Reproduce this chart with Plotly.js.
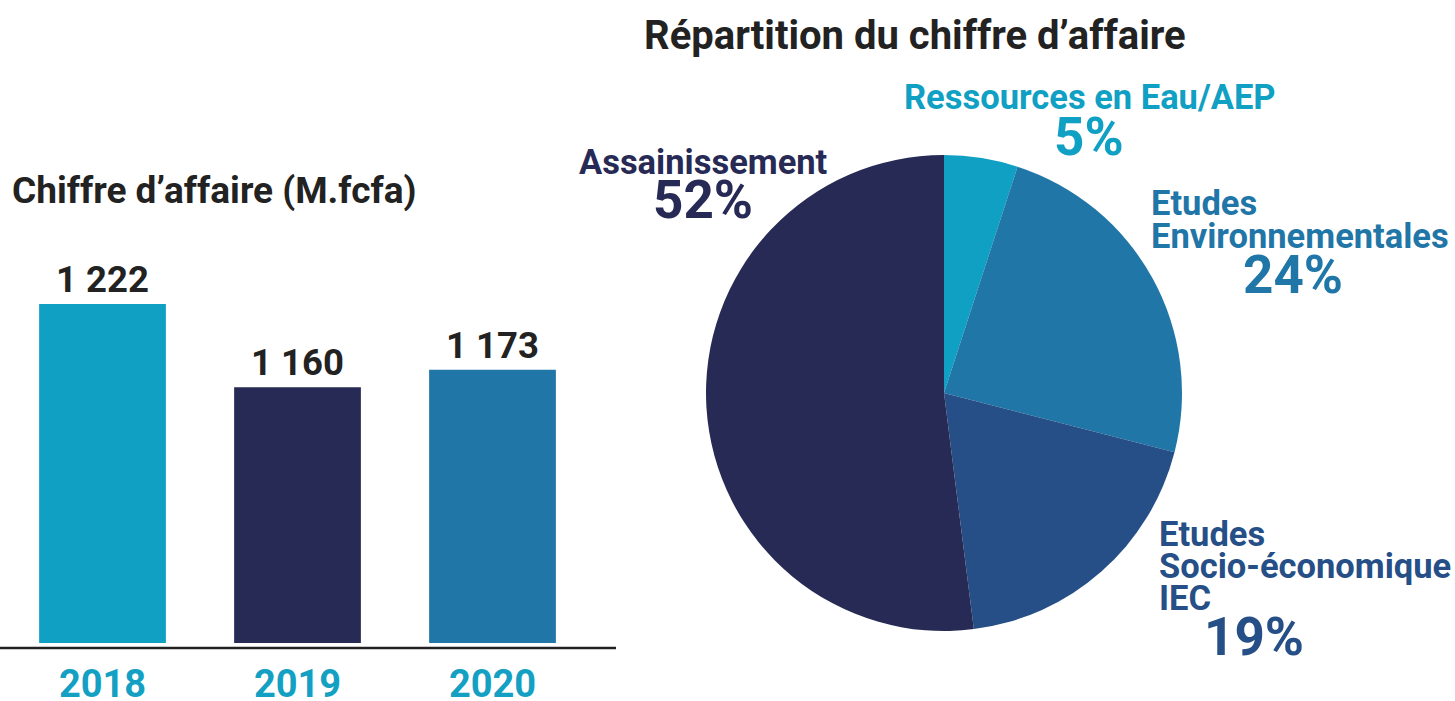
<!DOCTYPE html>
<html>
<head>
<meta charset="utf-8">
<script src="https://cdn.plot.ly/plotly-3.0.1.min.js"></script>
<style>
  html, body { margin: 0; padding: 0; background: #ffffff; }
  #chart { width: 1455px; height: 701px; }
</style>
</head>
<body>
<div id="chart"></div>
<script>
// ---- Data ----
const years = ['2018', '2019', '2020'];
const revenue = [1222, 1160, 1173];
const revenueLabels = ['1 222', '1 160', '1 173'];
const barColors = ['#0fa0c3', '#272a55', '#1f76a7'];

const pieLabels = ['Ressources en Eau/AEP', 'Etudes Environnementales', 'Etudes Socio-économique IEC', 'Assainissement'];
const pieValues = [5, 24, 19, 52];
const pieColors = ['#0fa0c3', '#1f76a7', '#254f86', '#272a55'];

// label lines shown next to the pie (per slice)
const pieLabelLines = [
  ['Ressources en Eau/AEP'],
  ['Etudes', 'Environnementales'],
  ['Etudes', 'Socio-économique', 'IEC'],
  ['Assainissement']
];
const piePercents = pieValues.map(v => v + '%');

// ---- Helpers ----
const W = 1455, H = 701;
const px = x => x / W;
const py = y => 1 - y / H;
const FONT = 'Roboto, "Liberation Sans", Arial, sans-serif';

const barTrace = {
  type: 'bar',
  x: years,
  y: revenue,
  marker: { color: barColors, line: { width: 0 } },
  text: revenueLabels,
  textposition: 'outside',
  textfont: { family: FONT, size: 36.5, color: '#222222', weight: 700 },
  cliponaxis: true,
  hoverinfo: 'skip',
  xaxis: 'x', yaxis: 'y',
  showlegend: false
};

const pieTrace = {
  type: 'pie',
  labels: pieLabels,
  values: pieValues,
  marker: { colors: pieColors, line: { width: 0 } },
  sort: false,
  direction: 'clockwise',
  rotation: 0,
  textinfo: 'none',
  hoverinfo: 'label+percent',
  showlegend: false,
  domain: { x: [px(706), px(1182)], y: [py(631), py(155)] }
};

// annotation placement for pie labels
const labelPos = [
  { x: 1090, y0: 97, step: 33, anchor: 'center', pctX: 1089, pctY: 137 },
  { x: 1150, y0: 203, step: 33, anchor: 'left', pctX: 1293, pctY: 275 },
  { x: 1158, y0: 534, step: 32, anchor: 'left', pctX: 1254, pctY: 637 },
  { x: 703, y0: 162, step: 33, anchor: 'center', pctX: 703, pctY: 200 }
];

const annotations = [];
pieLabelLines.forEach((lines, i) => {
  const p = labelPos[i];
  lines.forEach((ln, j) => {
    annotations.push({
      xref: 'paper', yref: 'paper',
      x: px(p.x), y: py(p.y0 + j * p.step),
      xanchor: p.anchor, yanchor: 'middle',
      text: ln, showarrow: false, borderpad: 0,
      font: { family: FONT, size: 34.5, color: pieColors[i], weight: 700 }
    });
  });
  annotations.push({
    xref: 'paper', yref: 'paper',
    x: px(p.pctX), y: py(p.pctY),
    xanchor: 'center', yanchor: 'middle',
    text: piePercents[i], showarrow: false, borderpad: 0,
    font: { family: FONT, size: 53, color: pieColors[i], weight: 700 }
  });
});

// titles
annotations.push({
  xref: 'paper', yref: 'paper', x: px(10), y: py(190),
  xanchor: 'left', yanchor: 'middle',
  text: 'Chiffre d’affaire (M.fcfa)', showarrow: false,
  font: { family: FONT, size: 37, color: '#222222', weight: 700 }
});
annotations.push({
  xref: 'paper', yref: 'paper', x: px(915), y: py(35),
  xanchor: 'center', yanchor: 'middle',
  text: 'Répartition du chiffre d’affaire', showarrow: false,
  font: { family: FONT, size: 40, color: '#222222', weight: 700 }
});

const layout = {
  width: W, height: H,
  margin: { l: 0, r: 0, t: 0, b: 0 },
  paper_bgcolor: '#ffffff',
  plot_bgcolor: 'rgba(0,0,0,0)',
  bargap: 0.35,
  xaxis: {
    domain: [px(5), px(590)],
    type: 'category',
    showgrid: false, zeroline: false, showline: false,
    ticks: '',
    tickfont: { family: FONT, size: 38, color: '#13a0c3', weight: 700 },
    ticklabelstandoff: 15,
    fixedrange: true
  },
  yaxis: {
    domain: [py(643), py(250)],
    range: [969.4, 969.4 + 393 / 1.342],
    visible: false,
    showgrid: false, zeroline: false,
    fixedrange: true
  },
  shapes: [{
    type: 'line', xref: 'paper', yref: 'paper',
    x0: 0, x1: px(616), y0: py(648), y1: py(648),
    line: { color: '#222222', width: 2.5 }
  }],
  annotations: annotations
};

Plotly.newPlot('chart', [barTrace, pieTrace], layout, { displayModeBar: false, staticPlot: true });
</script>
</body>
</html>
